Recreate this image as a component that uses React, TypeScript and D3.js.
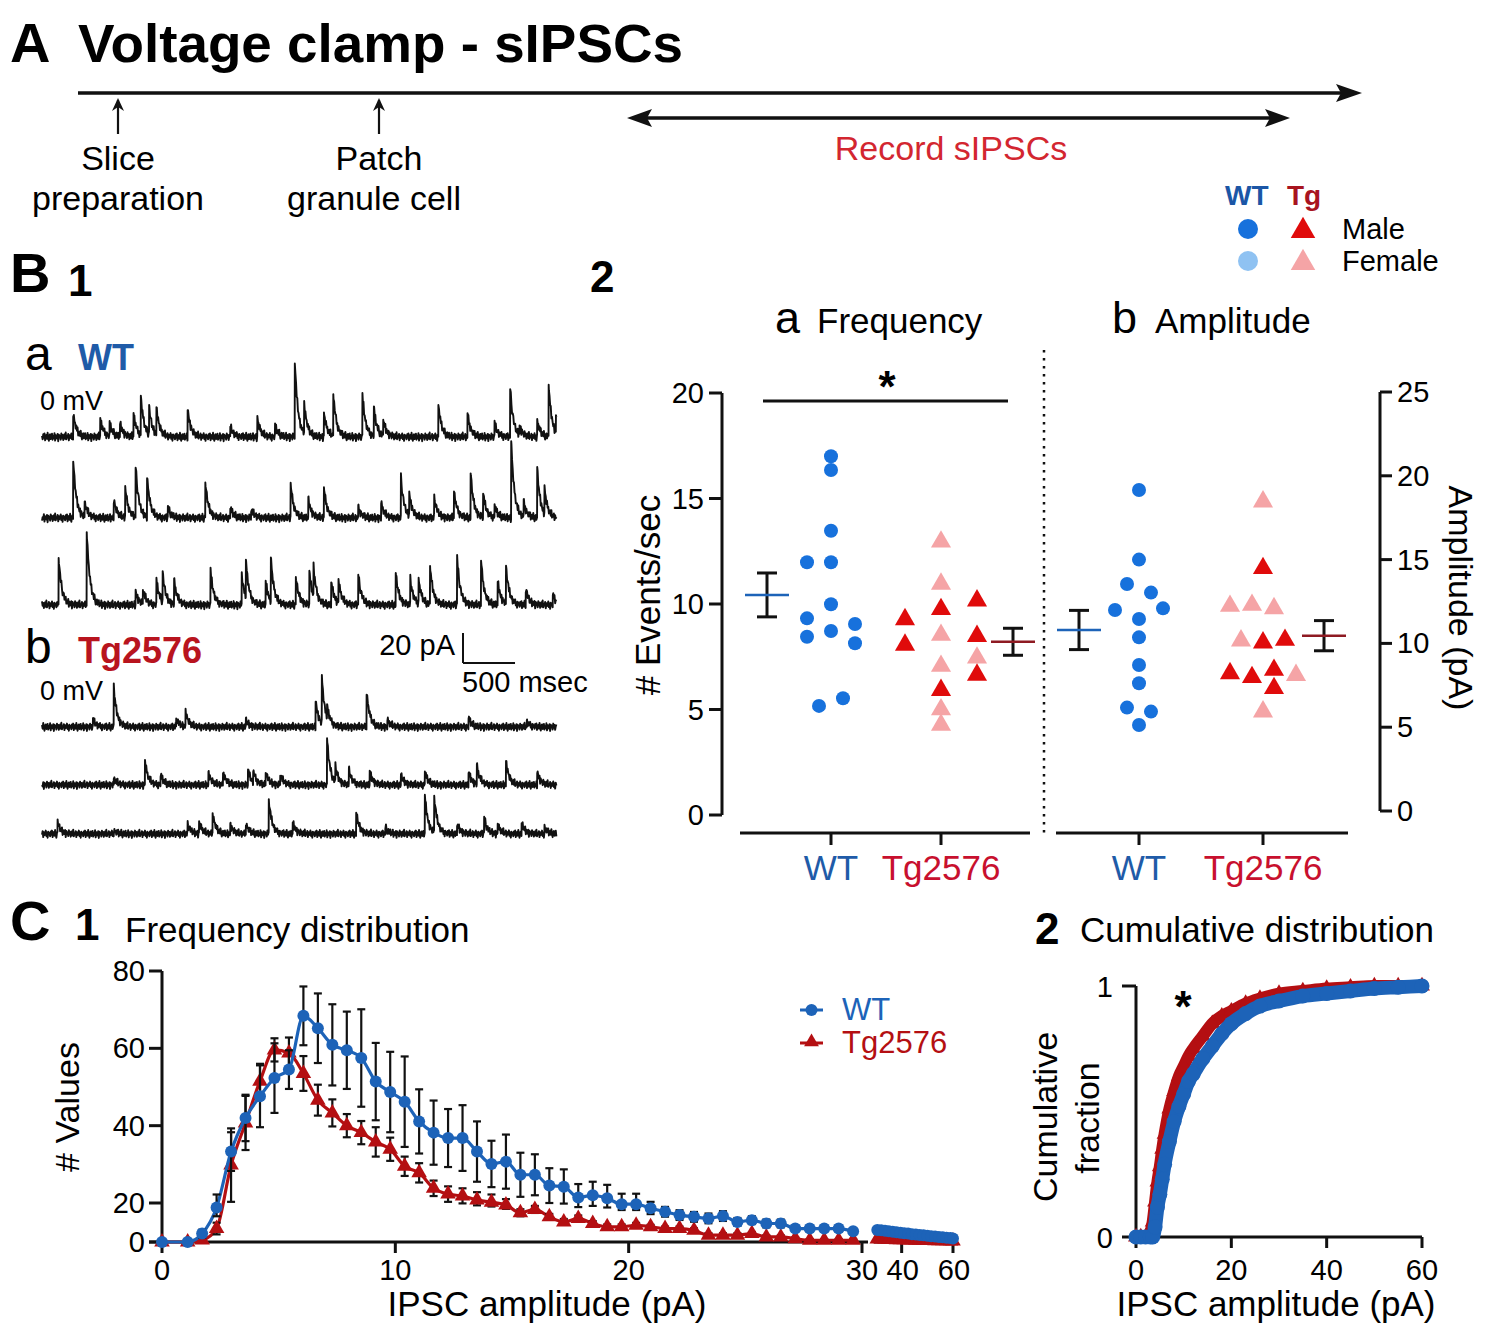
import React from 'react';
import * as d3 from 'd3';

const FONT = '"Liberation Sans", Arial, Helvetica, sans-serif';

const BLUE_TEXT = '#1f5ba8';
const RED_TEXT = '#b8141e';
const WT_DOT = '#1771dc';
const WT_DOT_F = '#8fc2f2';
const TG_TRI = '#e00b0b';
const TG_TRI_F = '#f5a4a6';
const LINE_BLUE = '#1d63b8';
const LINE_RED = '#b40f12';

// ---------- B1: sIPSC traces, spikes as [time (s), amplitude (pA)] ----------
const wtTrace1 = [[0.30,16],[0.56,12.5],[0.65,9],[0.75,9],[0.88,16],[0.95,26],[1.03,18],[1.10,18],[1.40,19],[1.81,7],[2.07,12.5],[2.24,8],[2.43,51],[2.52,20.5],[2.71,16],[2.80,28.5],[3.08,28.5],[3.19,19],[3.28,11],[3.81,21.7],[4.09,16],[4.35,9],[4.50,33],[4.59,6],[4.76,11],[4.87,35],[4.94,11]];
const wtTrace2 = [[0.30,39],[0.41,10],[0.69,12.5],[0.80,20.5],[0.90,34],[1.01,27],[1.21,7],[1.57,24],[1.81,7],[2.01,6],[2.39,23],[2.56,12.5],[2.71,20.5],[3.04,7],[3.26,10],[3.45,27],[3.53,15],[3.77,14],[3.96,18],[4.12,30],[4.24,16],[4.35,8],[4.51,51],[4.63,10],[4.76,33],[4.83,17]];
const wtTrace3 = [[0.16,32],[0.43,50],[0.90,9],[0.97,10],[1.10,17],[1.16,19],[1.27,16],[1.62,23],[1.92,20.5],[1.96,25],[2.15,16],[2.20,28.5],[2.44,19],[2.57,21.7],[2.61,20.5],[2.78,16],[2.85,15],[3.04,20.5],[3.40,21.7],[3.54,17],[3.62,16],[3.73,26],[3.99,32],[4.22,30],[4.38,16],[4.46,25],[4.65,11],[4.91,7]];
const tgTrace1 = [[0.49,4.6],[0.69,27],[1.29,6],[1.38,10],[1.96,4.6],[2.63,18],[2.69,31],[2.74,9],[3.12,24],[3.32,4.6],[4.10,6],[4.66,3.4]];
const tgTrace2 = [[0.69,4.6],[0.99,16],[1.14,7],[1.60,8],[1.74,9],[1.98,10],[2.03,8],[2.15,9],[2.29,7],[2.74,31],[2.82,11],[2.95,10],[3.15,9],[3.45,7],[3.68,9],[4.10,9],[4.18,12.5],[4.46,16],[4.76,9]];
const tgTrace3 = [[0.15,8],[0.69,2.3],[1.40,7],[1.51,8],[1.64,14],[1.81,6],[1.96,7],[2.18,23],[2.41,8],[3.02,15],[3.30,4.6],[3.68,26],[3.77,24],[3.99,7],[4.25,11],[4.38,6],[4.61,8],[4.83,4.6]];
// baseline noise (pA), hand-read texture
const noisePA = [0.4,-0.8,0.9,-0.3,1.2,-1.1,0.2,0.7,-0.6,1.4,-0.2,-1.3,0.5,0.9,-0.7,0.1,1.1,-0.9,0.3,-0.4,1.3,-1.2,0.6,0.0,-0.5,1.0,-1.4,0.8,-0.1,0.4,-0.9,1.2,-0.3,0.7,-1.0,0.2,0.9,-0.6,1.5,-0.8,0.3,-0.2,1.0,-1.1,0.6,-0.4,0.1,1.2,-0.7,0.5,-1.3,0.8,-0.2];

// ---------- B2: per-cell frequency and amplitude ----------
const groups = ['WT', 'Tg2576'];
const wtFreq = [17.0,16.35,13.47,11.98,11.98,9.99,9.32,9.05,8.45,8.72,8.14,5.17,5.53];
const wtFreqSlot = [0,0,0,-2,0,0,-2,2,-2,0,2,-1,1];
const tgFreq = [9.27,8.06,12.95,10.95,9.75,8.53,7.06,5.92,5.0,4.27,10.16,8.48,7.45,6.64];
const tgFreqSlot = [-3,-3,0,0,0,0,0,0,0,0,3,3,3,3];
const tgFreqSex = ['M','M','F','F','M','F','F','M','F','F','M','M','F','M'];
const wtAmp = [19.15,15.0,13.54,13.03,11.99,12.09,11.46,10.36,8.71,7.62,6.17,5.93,5.13];
const wtAmpSlot = [0,0,-1,1,-2,2,0,0,0,0,-1,1,0];
const tgAmp = [18.46,14.48,12.23,12.29,12.09,10.16,10.04,10.2,8.21,7.98,8.41,8.11,7.32,5.93];
const tgAmpSlot = [0,0,-3,-1,1,-2,0,2,-3,-1,1,3,1,0];
const tgAmpSex = ['F','M','F','F','F','F','M','M','M','M','M','F','M','F'];
const freqMean = [10.43, 8.21];
const freqSem = [1.04, 0.64];
const ampMean = [10.8, 10.46];
const ampSem = [1.17, 0.9];
const freqTicks = [0, 5, 10, 15, 20];
const ampTicks = [0, 5, 10, 15, 20, 25];

// ---------- C1: frequency distribution ----------
const binsA = [0,1.1,1.72,2.34,2.96,3.58,4.2,4.82,5.44,6.06,6.68,7.3,7.92,8.54,9.16,9.78,10.4,11.02,11.64,12.26,12.88,13.5,14.12,14.74,15.36,15.98,16.6,17.22,17.84,18.46,19.08,19.7,20.32,20.94,21.56,22.18,22.8,23.42,24.04,24.66,25.28,25.9,26.52,27.14,27.76,28.38,29.0,29.62];
const wtHistA = [0,0,4.3,17.7,33.3,42.0,47.6,52.3,54.5,68.4,65.2,60.9,59.5,57.5,51.4,48.7,46.2,41.1,38.2,36.8,36.8,33.3,30.1,30.7,27.3,27.3,24.5,24.2,21.4,22.0,21.2,19.4,19.4,17.3,15.5,13.8,12.9,12.1,13.3,10.3,11.2,9.5,9.5,6.9,6.9,6.9,6.9,5.5];
const wtSemA = [0,0,2,4.5,5,6,8,9,5,7.6,9,10.5,10,12.6,10,10.4,11.7,8.3,8.3,7.5,8.5,7.8,6,7,5.7,5.3,4.5,4.5,3.5,3.5,3.5,3,3,3,2.5,2.5,2.5,2.5,2.5,2,2,2,2,1.5,1.5,1.5,1.5,1];
const tgHistA = [0,0,1,6.9,29.8,40.7,51.5,59.6,58.8,53.5,46.6,43.3,40.0,38.2,35.8,33.9,29.5,27.8,23.8,22.3,21.8,20.8,20.2,19.0,15.0,16.7,12.9,10.3,12.1,9.5,7.8,7.8,8.6,7.8,6.9,6.9,6.0,3.5,3.5,3.5,4.3,2.6,2.6,1.7,0.9,0.9,0.9,0.9];
const tgSemA = [0,0,1,3,9.5,7,4.5,3,4,4.5,4,3.5,3,3,3.8,3,2.5,2.5,2,2,2,2,2,2,1.8,1.8,1.5,1.5,1.5,1.2,1.2,1.2,1.2,1,1,1,1,1,1,1,0.8,0.8,0.8,0.6,0.6,0.5,0.5,0.5];
const binsB = [30.5,32,33.5,35,36.5,38,39.5,41,42.5,44,45.5,47,48.5,50,51.5,53,54.5,56,57.5,59,60];
const wtHistB = [6.2,6.0,5.8,5.5,5.2,5.0,4.8,4.5,4.3,4.0,3.8,3.6,3.4,3.2,3.0,2.8,2.6,2.4,2.2,2.0,1.8];
const tgHistB = [1.6,1.5,1.4,1.3,1.3,1.2,1.1,1.1,1.0,1.0,0.9,0.9,0.8,0.8,0.8,0.7,0.7,0.6,0.6,0.5,0.5];
const c1YTicks = [0, 20, 40, 60, 80];
const c1XTicksA = [0, 10, 20, 30];
const c1XTicksB = [40, 60];

// ---------- C2: cumulative distribution ----------
const cumX = [0,1,2,3,3.5,4,4.5,5,5.5,6,7,8,9,10,11,12,14,16,18,20,23,26,30,35,40,45,50,55,60];
const cumTg = [0,0,0,0.02,0.06,0.14,0.22,0.28,0.35,0.41,0.51,0.58,0.64,0.68,0.72,0.75,0.80,0.85,0.88,0.90,0.93,0.95,0.97,0.98,0.99,0.995,1,1,1];
const cumWT = [0,0,0,0,0,0.04,0.12,0.17,0.23,0.29,0.38,0.46,0.52,0.57,0.62,0.65,0.71,0.76,0.81,0.85,0.89,0.92,0.94,0.96,0.97,0.98,0.99,0.995,1];
const c2XTicks = [0, 20, 40, 60];
const c2YTicks = [0, 1];

// ---------- scales ----------
const TRACE_DUR = 4.95;
const traceX = d3.scaleLinear().domain([0, TRACE_DUR]).range([42, 557]);
const tracePx = d3.scaleLinear().domain([0, 20]).range([0, 30]);
const NOISE_DT = 0.006;

function tracePath(spikes: number[][], offset: number, baseY: number, gain: number): string {
  const ts: number[] = d3.range(0, TRACE_DUR, NOISE_DT);
  spikes.forEach(([t]) => { ts.push(t - 0.0015, t); });
  ts.sort((a, b) => a - b);
  const N = noisePA.length;
  const pts = ts.map((t) => {
    const i = t / NOISE_DT + offset;
    const i0 = Math.floor(i);
    const f = i - i0;
    let v = (noisePA[i0 % N] * (1 - f) + noisePA[(i0 + 1) % N] * f) * gain;
    for (const [t0, a] of spikes) if (t >= t0) v += a * Math.exp(-(t - t0) / 0.03);
    return [traceX(t), baseY - tracePx(v)] as [number, number];
  });
  return d3.line()(pts) || '';
}

const freqY = d3.scaleLinear().domain([0, 20]).range([815, 393]);
const ampY = d3.scaleLinear().domain([0, 25]).range([811, 392]);
const freqX = d3.scalePoint().domain(groups).range([831, 941]);
const ampX = d3.scalePoint().domain(groups).range([1139, 1263]);
const SLOT = 12;

const c1XA = d3.scaleLinear().domain([0, 30]).range([162, 862]);
const c1XB = d3.scaleLinear().domain([30, 60]).range([876, 953]);
const c1Y = d3.scaleLinear().domain([0, 20, 80]).range([1242, 1203, 971]);

const c2X = d3.scaleLinear().domain([0, 60]).range([1136, 1422]);
const c2Y = d3.scaleLinear().domain([0, 1]).range([1237, 986]);

const triSym = (size: number) => d3.symbol().type(d3.symbolTriangle).size(size)() || '';

function MeanBar({ cx, y, mean, sem, color }: any) {
  return (
    <g>
      <line x1={cx - 10} x2={cx + 10} y1={y(mean + sem)} y2={y(mean + sem)} stroke="#111" strokeWidth={3} />
      <line x1={cx - 10} x2={cx + 10} y1={y(mean - sem)} y2={y(mean - sem)} stroke="#111" strokeWidth={3} />
      <line x1={cx} x2={cx} y1={y(mean + sem)} y2={y(mean - sem)} stroke="#111" strokeWidth={3} />
      <line x1={cx - 22} x2={cx + 22} y1={y(mean)} y2={y(mean)} stroke={color} strokeWidth={2.5} />
    </g>
  );
}

function C1Series({ xs, vals, sems, xScale, color, kind }: any) {
  const pts = xs.map((x: number, i: number) => [xScale(x), c1Y(vals[i])] as [number, number]);
  const line = d3.line().curve(d3.curveMonotoneX)(pts) || '';
  return (
    <g>
      <path d={line} fill="none" stroke={color} strokeWidth={3.2} />
      {sems && xs.map((x: number, i: number) => {
        if (!sems[i]) return null;
        const cx = xScale(x);
        const y1 = c1Y(vals[i] + sems[i]);
        const y2 = c1Y(Math.max(0, vals[i] - sems[i]));
        return (
          <g key={'e' + i}>
            <line x1={cx} x2={cx} y1={y1} y2={y2} stroke="#111" strokeWidth={2.2} />
            <line x1={cx - 4} x2={cx + 4} y1={y1} y2={y1} stroke="#111" strokeWidth={2.2} />
            <line x1={cx - 4} x2={cx + 4} y1={y2} y2={y2} stroke="#111" strokeWidth={2.2} />
          </g>
        );
      })}
      {pts.map(([px, py]: number[], i: number) =>
        kind === 'circle'
          ? <circle key={'m' + i} cx={px} cy={py} r={6} fill={color} />
          : <path key={'m' + i} d={triSym(105)} transform={`translate(${px},${py})`} fill={color} />
      )}
    </g>
  );
}

export default function App() {
  const W = 1502, H = 1335;
  const cumLine = d3.line<number>().x((d, i) => c2X(cumX[i])).curve(d3.curveMonotoneX);

  return (
    <svg width={W} height={H} style={{ position: 'absolute', left: 0, top: 0 }} fontFamily={FONT}>
      <rect width={W} height={H} fill="#fff" />

      {/* ---------------- Panel A ---------------- */}
      <text x={10} y={62} fontSize={56} fontWeight="bold">A</text>
      <text x={78} y={62} fontSize={54} fontWeight="bold" textLength={605} lengthAdjust="spacingAndGlyphs">Voltage clamp - sIPSCs</text>
      <line x1={78} x2={1345} y1={93} y2={93} stroke="#111" strokeWidth={3.5} />
      <polygon points="1362,93 1336,84 1341,93 1336,102" fill="#111" />
      <line x1={640} x2={1278} y1={118} y2={118} stroke="#111" strokeWidth={3.5} />
      <polygon points="627,118 652,109 647,118 652,127" fill="#111" />
      <polygon points="1290,118 1265,109 1270,118 1265,127" fill="#111" />
      {[118, 379].map((x) => (
        <g key={x}>
          <line x1={x} x2={x} y1={134} y2={100} stroke="#111" strokeWidth={2.2} />
          <polygon points={`${x},98 ${x - 6},111 ${x},107 ${x + 6},111`} fill="#111" />
        </g>
      ))}
      <text x={118} y={170} fontSize={34} textAnchor="middle">Slice</text>
      <text x={118} y={210} fontSize={34} textAnchor="middle">preparation</text>
      <text x={379} y={170} fontSize={34} textAnchor="middle">Patch</text>
      <text x={374} y={210} fontSize={34} textAnchor="middle">granule cell</text>
      <text x={951} y={160} fontSize={34} textAnchor="middle" fill="#d32630">Record sIPSCs</text>

      {/* legend top right */}
      <text x={1225} y={205} fontSize={28} fontWeight="bold" fill="#1b56a6">WT</text>
      <text x={1287} y={205} fontSize={28} fontWeight="bold" fill="#a8141f">Tg</text>
      <circle cx={1248} cy={229} r={10} fill={WT_DOT} />
      <path d={triSym(260)} transform="translate(1303,231)" fill={TG_TRI} />
      <circle cx={1248} cy={261} r={10} fill={WT_DOT_F} />
      <path d={triSym(260)} transform="translate(1303,263)" fill={TG_TRI_F} />
      <text x={1342} y={239} fontSize={29}>Male</text>
      <text x={1342} y={271} fontSize={29}>Female</text>

      {/* ---------------- Panel B1 ---------------- */}
      <text x={10} y={292} fontSize={56} fontWeight="bold">B</text>
      <text x={68} y={296} fontSize={44} fontWeight="bold">1</text>
      <text x={590} y={292} fontSize={44} fontWeight="bold">2</text>
      <text x={25} y={370} fontSize={48}>a</text>
      <text x={78} y={370} fontSize={36} fontWeight="bold" fill={BLUE_TEXT}>WT</text>
      <text x={40} y={410} fontSize={27}>0 mV</text>
      <text x={25} y={663} fontSize={48}>b</text>
      <text x={78} y={663} fontSize={36} fontWeight="bold" fill={RED_TEXT}>Tg2576</text>
      <text x={40} y={700} fontSize={27}>0 mV</text>
      <g fill="none" stroke="#111" strokeWidth={1.9} strokeLinejoin="round">
        <path d={tracePath(wtTrace1, 0, 437, 2.0)} />
        <path d={tracePath(wtTrace2, 17, 518, 2.0)} />
        <path d={tracePath(wtTrace3, 31, 605, 2.0)} />
        <path d={tracePath(tgTrace1, 7, 727, 1.9)} />
        <path d={tracePath(tgTrace2, 23, 785, 1.9)} />
        <path d={tracePath(tgTrace3, 41, 834, 1.9)} />
      </g>
      {/* scale bar */}
      <line x1={463} x2={463} y1={663} y2={663 - tracePx(20)} stroke="#111" strokeWidth={2} />
      <line x1={463} x2={463 + traceX(0.5) - traceX(0)} y1={663} y2={663} stroke="#111" strokeWidth={2} />
      <text x={455} y={655} fontSize={29} textAnchor="end">20 pA</text>
      <text x={462} y={692} fontSize={29}>500 msec</text>

      {/* ---------------- Panel B2 ---------------- */}
      <text x={775} y={333} fontSize={45}>a</text>
      <text x={817} y={333} fontSize={35}>Frequency</text>
      <text x={1112} y={333} fontSize={45}>b</text>
      <text x={1155} y={333} fontSize={35}>Amplitude</text>

      {/* frequency axis */}
      <line x1={722} x2={722} y1={freqY(20)} y2={freqY(0)} stroke="#111" strokeWidth={3} />
      {freqTicks.map((t) => (
        <g key={t}>
          <line x1={709} x2={722} y1={freqY(t)} y2={freqY(t)} stroke="#111" strokeWidth={3} />
          <text x={704} y={freqY(t) + 10} fontSize={29} textAnchor="end">{t}</text>
        </g>
      ))}
      <text transform="translate(660,595) rotate(-90)" fontSize={35} textAnchor="middle"># Events/sec</text>
      <line x1={740} x2={1030} y1={833} y2={833} stroke="#111" strokeWidth={3} />
      {groups.map((g) => (
        <g key={g}>
          <line x1={freqX(g)} x2={freqX(g)} y1={833} y2={845} stroke="#111" strokeWidth={3} />
          <text x={freqX(g)} y={880} fontSize={35} textAnchor="middle" fill={g === 'WT' ? BLUE_TEXT : '#c8102e'}>{g}</text>
        </g>
      ))}
      <line x1={763} x2={1008} y1={401} y2={401} stroke="#111" strokeWidth={3} />
      <text x={887} y={402} fontSize={44} fontWeight="bold" textAnchor="middle">*</text>
      {wtFreq.map((v, i) => (
        <circle key={'wf' + i} cx={(freqX('WT') as number) + wtFreqSlot[i] * SLOT} cy={freqY(v)} r={7} fill={WT_DOT} />
      ))}
      {tgFreq.map((v, i) => (
        <path key={'tf' + i} d={triSym(175)} transform={`translate(${(freqX('Tg2576') as number) + tgFreqSlot[i] * SLOT},${freqY(v)})`}
          fill={tgFreqSex[i] === 'M' ? TG_TRI : TG_TRI_F} />
      ))}
      <MeanBar cx={(freqX('WT') as number) - 64} y={freqY} mean={freqMean[0]} sem={freqSem[0]} color={LINE_BLUE} />
      <MeanBar cx={(freqX('Tg2576') as number) + 72} y={freqY} mean={freqMean[1]} sem={freqSem[1]} color="#8e1a22" />

      {/* separator */}
      <line x1={1044} x2={1044} y1={350} y2={838} stroke="#111" strokeWidth={2.5} strokeDasharray="2.5,5.5" />

      {/* amplitude axis */}
      <line x1={1380} x2={1380} y1={ampY(25)} y2={ampY(0)} stroke="#111" strokeWidth={3} />
      {ampTicks.map((t) => (
        <g key={t}>
          <line x1={1380} x2={1392} y1={ampY(t)} y2={ampY(t)} stroke="#111" strokeWidth={3} />
          <text x={1397} y={ampY(t) + 10} fontSize={29}>{t}</text>
        </g>
      ))}
      <text transform="translate(1449,598) rotate(90)" fontSize={34} textAnchor="middle">Amplitude (pA)</text>
      <line x1={1056} x2={1348} y1={833} y2={833} stroke="#111" strokeWidth={3} />
      {groups.map((g) => (
        <g key={g}>
          <line x1={ampX(g)} x2={ampX(g)} y1={833} y2={845} stroke="#111" strokeWidth={3} />
          <text x={ampX(g)} y={880} fontSize={35} textAnchor="middle" fill={g === 'WT' ? BLUE_TEXT : '#c8102e'}>{g}</text>
        </g>
      ))}
      {wtAmp.map((v, i) => (
        <circle key={'wa' + i} cx={(ampX('WT') as number) + wtAmpSlot[i] * SLOT} cy={ampY(v)} r={7} fill={WT_DOT} />
      ))}
      {tgAmp.map((v, i) => (
        <path key={'ta' + i} d={triSym(175)} transform={`translate(${(ampX('Tg2576') as number) + tgAmpSlot[i] * 11},${ampY(v)})`}
          fill={tgAmpSex[i] === 'M' ? TG_TRI : TG_TRI_F} />
      ))}
      <MeanBar cx={(ampX('WT') as number) - 60} y={ampY} mean={ampMean[0]} sem={ampSem[0]} color={LINE_BLUE} />
      <MeanBar cx={(ampX('Tg2576') as number) + 61} y={ampY} mean={ampMean[1]} sem={ampSem[1]} color="#8e1a22" />

      {/* ---------------- Panel C1 ---------------- */}
      <text x={10} y={940} fontSize={56} fontWeight="bold">C</text>
      <text x={75} y={940} fontSize={44} fontWeight="bold">1</text>
      <text x={125} y={942} fontSize={35}>Frequency distribution</text>
      <line x1={162} x2={162} y1={c1Y(80)} y2={c1Y(0)} stroke="#111" strokeWidth={3} />
      {c1YTicks.map((t) => (
        <g key={t}>
          <line x1={149} x2={162} y1={c1Y(t)} y2={c1Y(t)} stroke="#111" strokeWidth={3} />
          <text x={145} y={c1Y(t) + 10} fontSize={29} textAnchor="end">{t}</text>
        </g>
      ))}
      <line x1={149} x2={868} y1={c1Y(0)} y2={c1Y(0)} stroke="#111" strokeWidth={3} />
      <line x1={874} x2={958} y1={c1Y(0)} y2={c1Y(0)} stroke="#111" strokeWidth={3} />
      {c1XTicksA.map((t) => (
        <g key={t}>
          <line x1={c1XA(t)} x2={c1XA(t)} y1={c1Y(0)} y2={c1Y(0) + 11} stroke="#111" strokeWidth={3} />
          <text x={c1XA(t)} y={1280} fontSize={29} textAnchor="middle">{t}</text>
        </g>
      ))}
      {c1XTicksB.map((t) => (
        <g key={t}>
          <line x1={c1XB(t)} x2={c1XB(t)} y1={c1Y(0)} y2={c1Y(0) + 11} stroke="#111" strokeWidth={3} />
          <text x={c1XB(t) + 1} y={1280} fontSize={29} textAnchor="middle">{t}</text>
        </g>
      ))}
      <text transform="translate(79,1107) rotate(-90)" fontSize={34} textAnchor="middle"># Values</text>
      <text x={547} y={1316} fontSize={35} textAnchor="middle">IPSC amplitude (pA)</text>
      <C1Series xs={binsA} vals={tgHistA} sems={tgSemA} xScale={c1XA} color={LINE_RED} kind="tri" />
      <C1Series xs={binsA} vals={wtHistA} sems={wtSemA} xScale={c1XA} color={LINE_BLUE} kind="circle" />
      <C1Series xs={binsB} vals={tgHistB} sems={null} xScale={c1XB} color={LINE_RED} kind="tri" />
      <C1Series xs={binsB} vals={wtHistB} sems={null} xScale={c1XB} color={LINE_BLUE} kind="circle" />
      {/* legend */}
      <line x1={800} x2={823} y1={1010} y2={1010} stroke={LINE_BLUE} strokeWidth={3} />
      <circle cx={811.5} cy={1010} r={6} fill={LINE_BLUE} />
      <text x={842} y={1020} fontSize={31} fill={LINE_BLUE}>WT</text>
      <line x1={800} x2={823} y1={1043} y2={1043} stroke={LINE_RED} strokeWidth={3} />
      <path d={triSym(95)} transform="translate(811.5,1042)" fill={LINE_RED} />
      <text x={842} y={1053} fontSize={31} fill={LINE_RED}>Tg2576</text>

      {/* ---------------- Panel C2 ---------------- */}
      <text x={1035} y={944} fontSize={44} fontWeight="bold">2</text>
      <text x={1080} y={942} fontSize={35}>Cumulative distribution</text>
      <line x1={1136} x2={1136} y1={c2Y(1)} y2={c2Y(0)} stroke="#111" strokeWidth={3} />
      {c2YTicks.map((t) => (
        <g key={t}>
          <line x1={1122} x2={1136} y1={c2Y(t)} y2={c2Y(t)} stroke="#111" strokeWidth={3} />
          <text x={1113} y={c2Y(t) + 11} fontSize={29} textAnchor="end">{t}</text>
        </g>
      ))}
      <line x1={1136} x2={1422} y1={c2Y(0)} y2={c2Y(0)} stroke="#111" strokeWidth={3} />
      {c2XTicks.map((t) => (
        <g key={t}>
          <line x1={c2X(t)} x2={c2X(t)} y1={c2Y(0)} y2={c2Y(0) + 11} stroke="#111" strokeWidth={3} />
          <text x={c2X(t)} y={1280} fontSize={29} textAnchor="middle">{t}</text>
        </g>
      ))}
      <text transform="translate(1057,1117) rotate(-90)" fontSize={34} textAnchor="middle">Cumulative</text>
      <text transform="translate(1099,1118) rotate(-90)" fontSize={34} textAnchor="middle">fraction</text>
      <text x={1276} y={1316} fontSize={35} textAnchor="middle">IPSC amplitude (pA)</text>
      <path d={cumLine.y((d) => c2Y(d))(cumTg) || ''} fill="none" stroke={LINE_RED} strokeWidth={12} strokeLinejoin="round" strokeLinecap="round" />
      {cumTg.map((v, i) => (
        <path key={'ct' + i} d={triSym(110)} transform={`translate(${c2X(cumX[i])},${c2Y(v)})`} fill={LINE_RED} />
      ))}
      <path d={cumLine.y((d) => c2Y(d))(cumWT) || ''} fill="none" stroke={LINE_BLUE} strokeWidth={14} strokeLinejoin="round" strokeLinecap="round" />
      {cumWT.map((v, i) => (
        <circle key={'cw' + i} cx={c2X(cumX[i])} cy={c2Y(v)} r={7.5} fill={LINE_BLUE} />
      ))}
      <text x={1183} y={1022} fontSize={44} fontWeight="bold" textAnchor="middle">*</text>
    </svg>
  );
}
